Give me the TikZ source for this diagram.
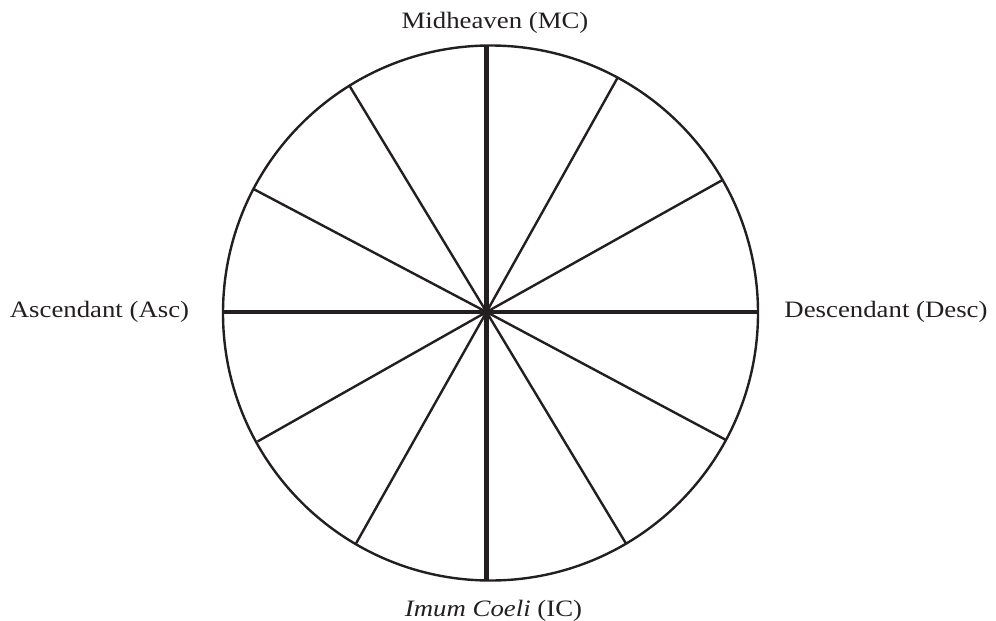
\documentclass[tikz,border=0pt]{standalone}
\usepackage{fontspec}
\setmainfont{Liberation Serif}[FakeStretch=1.14]
\definecolor{ink}{HTML}{231F20}
\begin{document}
\begin{tikzpicture}[x=1pt,y=-1pt,
  thinspoke/.style={draw=ink,line width=2.4pt},
  thickspoke/.style={draw=ink,line width=4.5pt},
  rim/.style={draw=ink,line width=2.4pt},
  lbl/.style={text=ink,inner sep=0pt,anchor=base,font=\fontsize{23.5}{28}\selectfont}]
\useasboundingbox (0,0) rectangle (996,621);
\coordinate (hub) at (486.5,312);
\coordinate (c) at (490.5,313);
\draw[rim] (c) circle[radius=267.5];
% thin spokes
\foreach \p in {(349,85),(618,77),(722.5,180),(726,440),(626,543.5),(356,543.5),(257.5,441.5),(253.5,189)}
  \draw[thinspoke] (hub) -- \p;
% thick spokes
\coordinate (top) at (486.5,46);
\coordinate (bot) at (486.5,580);
\coordinate (lft) at (223.5,312);
\coordinate (rgt) at (757.5,312);
\draw[thickspoke] (top) -- (bot);
\draw[thickspoke] (lft) -- (rgt);
\node[lbl] (mc) at (495,28.5) {Midheaven (MC)};
\node[lbl] (ic) at (493.5,616) {\textit{Imum Coeli} (IC)};
\node[lbl] (asc) at (99.5,317) {Ascendant (Asc)};
\node[lbl] (desc) at (886,317) {Descendant (Desc)};
\end{tikzpicture}
\end{document}
